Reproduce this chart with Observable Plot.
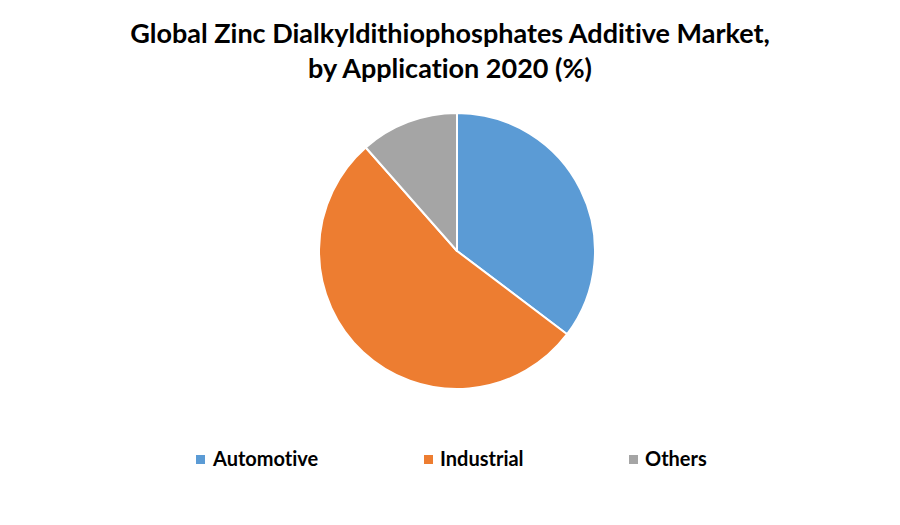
<!DOCTYPE html>
<html>
<head>
<meta charset="utf-8">
<script src="https://cdn.jsdelivr.net/npm/d3@7"></script>
<script src="https://cdn.jsdelivr.net/npm/@observablehq/plot@0.6"></script>
<style>
  html, body { margin: 0; padding: 0; background: #fff; }
  #wrap { position: relative; width: 900px; height: 525px; overflow: hidden; font-family: Lato, "Open Sans", sans-serif; font-variant-ligatures: none; font-feature-settings: "liga" 0, "clig" 0; }
  #title { position: absolute; left: 0; top: 15px; width: 900px; text-align: center; font-weight: bold; font-size: 27px; line-height: 35px; color: #000; }
  #chart { position: absolute; left: 0; top: 95px; }
  .leg { position: absolute; top: 447px; font-weight: bold; font-size: 20px; line-height: 22px; color: #000; white-space: nowrap; }
  .sw { position: absolute; width: 9px; height: 9px; }
</style>
</head>
<body>
<div id="wrap">
  <div id="title">Global Zinc Dialkyldithiophosphates Additive Market,<br>by Application 2020 (%)</div>
  <div id="chart"></div>
</div>
<script>
const categories = ["Automotive", "Industrial", "Others"];
const shares = [35.3, 53.2, 11.5];
const colors = ["#5B9BD5", "#ED7D31", "#A5A5A5"];

const data = categories.map((c, i) => ({category: c, value: shares[i]}));

const W = 900, H = 330;
const cx = 457, cy = 156, R = 138;

function pieMark(index, scales, values, dimensions) {
  const g = d3.create("svg:g");
  const arcs = d3.pie().sort(null).value(d => d.value)(data);
  const arc = d3.arc().innerRadius(0).outerRadius(R);
  g.attr("transform", `translate(${cx},${cy})`)
    .selectAll("path")
    .data(arcs)
    .join("path")
    .attr("d", arc)
    .attr("fill", d => scales.color(d.data.category))
    .attr("stroke", "#fff")
    .attr("stroke-width", 2)
    .attr("stroke-linejoin", "round");
  return g.node();
}

const plot = Plot.plot({
  width: W,
  height: H,
  margin: 0,
  x: {axis: null, domain: [0, 1]},
  y: {axis: null, domain: [0, 1]},
  color: {type: "categorical", domain: categories, range: colors},
  marks: [
    Plot.dot(data, {x: () => 0, y: () => 0, fill: "category", r: 0}),
    pieMark
  ]
});
document.getElementById("chart").appendChild(plot);

const wrap = document.getElementById("wrap");
const legX = [196, 424, 629];
const legTextX = [213, 440, 645];
categories.forEach((c, i) => {
  const sw = document.createElement("div");
  sw.className = "sw";
  sw.style.left = legX[i] + "px";
  sw.style.top = "455px";
  sw.style.background = colors[i];
  wrap.appendChild(sw);
  const t = document.createElement("div");
  t.className = "leg";
  t.style.left = legTextX[i] + "px";
  t.textContent = c;
  wrap.appendChild(t);
});
</script>
</body>
</html>
